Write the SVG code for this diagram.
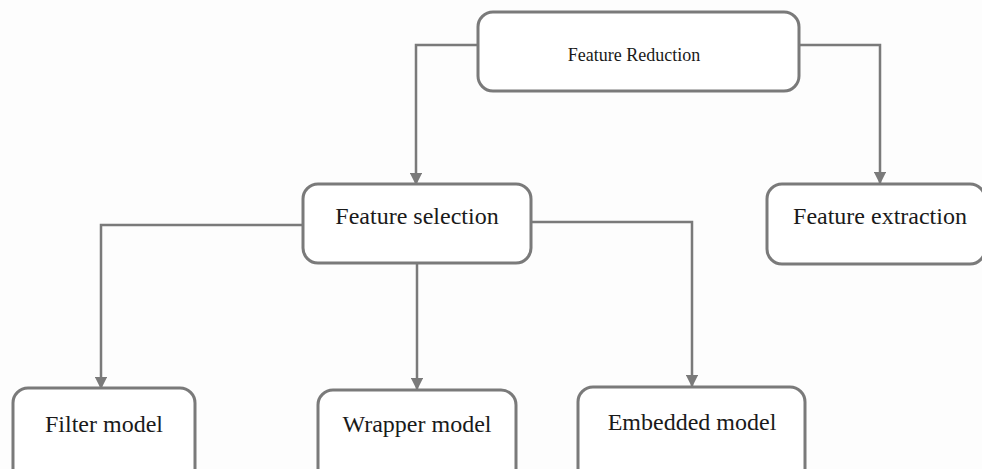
<svg xmlns="http://www.w3.org/2000/svg" width="982" height="469" viewBox="0 0 982 469">
<defs>
<marker id="arr" viewBox="0 0 10 10" refX="9" refY="5" markerWidth="5" markerHeight="5" orient="auto" markerUnits="strokeWidth">
<path d="M0,0 L10,5 L0,10 z" fill="#7a7a7a"/>
</marker>
</defs>
<style>
.box{fill:#ffffff;stroke:#7a7a7a;stroke-width:3}
.lbl{font-family:"Liberation Serif","Times New Roman",serif;fill:#1a1a1a;text-anchor:middle}
.big{font-size:24px}
.small{font-size:18px}
.conn{fill:none;stroke:#7a7a7a;stroke-width:2.5;marker-end:url(#arr)}
</style>
<rect width="982" height="469" fill="#fdfdfd"/>
<g id="connectors">
<path class="conn" d="M478,45 H416 V184"/>
<path class="conn" d="M799,45 H880 V183"/>
<path class="conn" d="M303,225 H101 V388"/>
<path class="conn" d="M417,263 V389"/>
<path class="conn" d="M531,222 H692 V386"/>
</g>
<g id="feature-reduction">
<rect class="box" x="478" y="12" width="321" height="79" rx="15"/>
<text class="lbl small" x="634" y="61">Feature Reduction</text>
</g>
<g id="feature-selection">
<rect class="box" x="303" y="184" width="228" height="79" rx="15"/>
<text class="lbl big" x="417" y="224">Feature selection</text>
</g>
<g id="feature-extraction">
<rect class="box" x="767" y="184" width="218" height="80" rx="15"/>
<text class="lbl big" x="880" y="224">Feature extraction</text>
</g>
<g id="filter-model">
<rect class="box" x="13" y="388" width="182" height="100" rx="15"/>
<text class="lbl big" x="104" y="432">Filter model</text>
</g>
<g id="wrapper-model">
<rect class="box" x="318" y="390" width="198" height="100" rx="15"/>
<text class="lbl big" x="417" y="432">Wrapper model</text>
</g>
<g id="embedded-model">
<rect class="box" x="578" y="387" width="227" height="100" rx="15"/>
<text class="lbl big" x="692" y="430">Embedded model</text>
</g>
</svg>
